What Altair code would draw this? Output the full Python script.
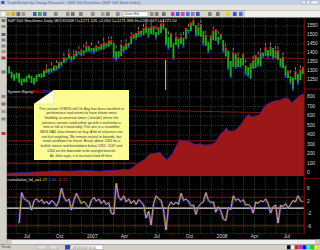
import altair as alt
import pandas as pd

FONT = "Liberation Sans"

# ---------------- price panel: weekly bars ----------------
week_dates = pd.date_range("2006-05-12", periods=119, freq="7D").strftime("%Y-%m-%d").tolist()
price_low = [1285, 1259, 1245, 1259, 1235, 1219, 1236, 1237, 1258, 1233,
             1224, 1240, 1265, 1262, 1266, 1288, 1293, 1290, 1298, 1310,
             1313, 1330, 1344, 1358, 1366, 1360, 1364, 1379, 1399, 1384,
             1395, 1404, 1408, 1410, 1403, 1407, 1420, 1416, 1420, 1436,
             1433, 1445, 1374, 1364, 1377, 1383, 1410, 1417, 1436, 1448,
             1478, 1481, 1490, 1500, 1498, 1510, 1493, 1505, 1500, 1484,
             1500, 1510, 1530, 1448, 1427, 1430, 1370, 1444, 1432, 1449,
             1439, 1478, 1518, 1520, 1550, 1500, 1495, 1490, 1450, 1439,
             1407, 1418, 1470, 1467, 1453, 1474, 1411, 1380, 1313, 1270,
             1322, 1321, 1320, 1325, 1330, 1284, 1274, 1256, 1312, 1315,
             1332, 1325, 1380, 1384, 1383, 1384, 1373, 1370, 1360, 1327,
             1315, 1272, 1260, 1235, 1200, 1250, 1234, 1249, 1283]
price_high = [1326, 1296, 1282, 1290, 1288, 1258, 1258, 1272, 1280, 1273,
              1262, 1280, 1284, 1286, 1303, 1305, 1312, 1316, 1322, 1329,
              1340, 1352, 1367, 1372, 1390, 1381, 1386, 1404, 1407, 1410,
              1415, 1431, 1430, 1427, 1429, 1433, 1435, 1440, 1452, 1453,
              1461, 1461, 1456, 1410, 1410, 1440, 1438, 1445, 1456, 1486,
              1498, 1510, 1513, 1523, 1530, 1540, 1540, 1538, 1540, 1516,
              1535, 1555, 1556, 1539, 1488, 1503, 1456, 1483, 1481, 1481,
              1485, 1530, 1530, 1560, 1576, 1555, 1536, 1552, 1521, 1492,
              1462, 1488, 1515, 1523, 1489, 1498, 1471, 1420, 1413, 1355,
              1397, 1396, 1370, 1371, 1388, 1331, 1321, 1334, 1353, 1380,
              1376, 1395, 1401, 1422, 1416, 1426, 1427, 1406, 1405, 1370,
              1370, 1330, 1292, 1271, 1263, 1290, 1284, 1300, 1314]
red_dot_weeks = [16, 19, 21, 23, 25, 27, 28, 30, 32, 33, 36, 38, 39, 41, 42, 46, 48, 50,
                 51, 53, 55, 56, 58, 59, 61, 62, 63, 66, 68, 70, 72, 74, 75, 77, 78, 80,
                 82, 83, 84, 86, 88, 91, 93, 95, 98, 99, 100, 102, 104, 106, 108, 109,
                 111, 113, 116, 118, 119]
blue_dot_weeks = [17, 20, 22, 24, 26, 29, 31, 34, 35, 37, 40, 43, 44, 45, 47, 49, 52, 54,
                  57, 60, 64, 65, 67, 69, 71, 73, 76, 79, 81, 85, 87, 89, 90, 92, 94, 96,
                  97, 101, 103, 105, 107, 110, 112, 114, 115, 117]
white_mark_weeks = [16, 18, 20, 23, 25, 27, 29, 31, 32, 34, 37, 39, 41, 42, 44, 46, 48, 50,
                    53, 55, 56, 58, 60, 62, 63, 65, 68, 70, 71, 73, 75, 77, 78, 80, 83, 85,
                    88, 91, 93, 96, 99, 101, 102, 104, 106, 108, 109, 111, 114, 116, 118]
spike_dates = ["2007-07-26"]
spike_top = [1362]
spike_bottom = [1194]
price_ticks = [1550, 1500, 1450, 1400, 1350, 1300, 1250]
price_ref = [1370]

# ---------------- system equity ----------------
equity_dates = ["2006-05-06", "2006-06-11", "2006-08-06", "2006-09-18", "2006-10-30", "2006-12-11",
                "2007-01-22", "2007-02-20", "2007-03-20", "2007-04-17", "2007-05-15", "2007-05-29",
                "2007-06-12", "2007-06-26", "2007-07-10", "2007-07-19", "2007-07-30", "2007-08-13",
                "2007-08-24", "2007-09-04", "2007-09-18", "2007-10-02", "2007-10-17", "2007-10-31",
                "2007-11-14", "2007-11-28", "2007-12-12", "2007-12-20", "2007-12-29",
                "2008-01-06", "2008-01-12", "2008-01-18", "2008-01-29", "2008-02-09", "2008-02-20",
                "2008-03-02", "2008-03-14", "2008-03-25", "2008-04-05", "2008-04-16", "2008-04-28",
                "2008-05-09", "2008-05-20", "2008-05-31", "2008-06-12", "2008-06-23", "2008-07-04",
                "2008-07-15", "2008-07-26", "2008-08-07", "2008-08-18"]
equity_values = [0, 5, 15, 25, 20, 30,
                 20, 30, 35, 40, 115, 150, 200, 210, 220, 180, 140, 200, 280, 350, 340, 330,
                 300, 310, 290, 300, 320, 370, 420,
                 440, 480, 450, 440, 460, 500, 560, 620, 590, 600, 620, 700, 730, 750, 760,
                 770, 790, 790, 740, 780, 820, 835]
equity_ticks = [800, 700, 600, 500, 400, 300, 200, 100, 0]
equity_trend_dates = ["2006-05-06", "2008-08-18"]
equity_trend_values = [690, 628]
equity_ref_levels = [340, 105]

# ---------------- indicator ----------------
ind_dates = week_dates[4:]
ind_values = [-4.8, 5, 3, 2.5, 2, -0.6, 2.5, 3, 2, 2.8,
              1.5, 2.2, 1.2, 2.5, 1.8, 0.6, 2.5, 6.4, 3.5, 2.2,
              3, -0.6, 2.5, 4.8, 3, 1.5, 2.2, 1.2, 0, 2.5,
              3.5, 2.2, 3, 1.5, 2.5, 1.2, 1.8, -1.6, -2, 8,
              3.5, 2.5, 4, 2, 3, 1.5, 2.5, 1.2, 2.8, 2,
              1, -3.2, -1, -5.4, 1.5, 4, 3, 2.5, -0.6, -7,
              0.5, 2, 1, 2, 1.2, 4.8, 2.5, 3, 2.2, 0.8,
              1, -2, 0.5, 1.5, 2, 5, 2.5, 1.8, 2, -1.3,
              0.5, -1, -3.5, -4, 0.3, -0.5, 4, 2.5, 3, 2,
              2.8, 1, 1.2, 0.5, -1.6, 2, 1.5, 2.5, 2, 3,
              1.5, -1.6, 0.5, 1, -4.8, 1, 0.5, 1.5, 0, 1.2,
              2.5, 2, 4, 2.5, 2]
ind_ticks = [6, 2, -2, -6]
ind_ref = [3.5, -5.5]
ind_zero = [0]

# ---------------- time axis ----------------
month_label_dates = ["2006-07-01", "2006-10-01", "2007-01-01", "2007-04-01", "2007-07-01",
                     "2007-10-01", "2008-01-01", "2008-04-01", "2008-07-01"]
month_labels = ["Jul", "Oct", "2007", "Apr", "Jul", "Oct", "2008", "Apr", "Jul"]
grid_dates = pd.date_range("2006-06-01", "2008-08-01", freq="MS").strftime("%Y-%m-%d").tolist()

note_lines = [
    "This version Of MDS still On Bay has been excellent in",
    "performance and seems to have shown more",
    "flexibility at uncertain times ( should ) where the",
    "previous version could either go with it and make a",
    "mint or fall at it miserably. This one is a scrambler",
    "MDS-NAZ also remains on buy. A bit of a bounce can",
    "not hurt anything. We remain neutral in bounds, but",
    "need conditions for those. Break above 1320 for a",
    "bullish stance and breakdown below 1255, 1247 and",
    "1204 on the downside to be outright bearish.",
    "As John says, it is no mans land till then.",
]

# ---------------- tables ----------------
price_df = pd.DataFrame({"date": week_dates, "low": price_low, "high": price_high,
                         "week": list(range(1, 120))})
red_df = price_df[price_df.week.isin(red_dot_weeks)]
blue_df = price_df[price_df.week.isin(blue_dot_weeks)]
white_df = price_df[price_df.week.isin(white_mark_weeks)]
spike_df = pd.DataFrame({"date": spike_dates, "top": spike_top, "bottom": spike_bottom})
eq_df = pd.DataFrame({"date": equity_dates, "v": equity_values})
trend_df = pd.DataFrame({"date": equity_trend_dates, "v": equity_trend_values})
ind_df = pd.DataFrame({"date": ind_dates, "v": ind_values})
one = pd.DataFrame({"k": [0]})


def X(field="date"):
    return alt.X(f"{field}:T", axis=None,
                 scale=alt.Scale(domain=[alt.DateTime(year=2006, month=5, date=6, utc=True),
                                         alt.DateTime(year=2008, month=8, date=18, utc=True)],
                                 range=[7, 304]))


PANELS = {"p": ([1194, 1594], [90, 18]), "e": ([-30, 874], [176, 90]), "i": ([-8, 10], [233, 177])}


def Y(field, which):
    dom, rng = PANELS[which]
    return alt.Y(f"{field}:Q", axis=None,
                 scale=alt.Scale(domain=dom, range=rng, zero=False, nice=False))


def box(x, x2, y, y2, color, **kw):
    return alt.Chart(one).mark_rect(color=color, **kw).encode(
        x=alt.value(x), x2=alt.value(x2), y=alt.value(y), y2=alt.value(y2))


def label(text, x, y, color, size=4.2, align="left", **kw):
    return alt.Chart(one).mark_text(text=text, align=align, baseline="middle", fontSize=size,
                                    color=color, font=FONT, **kw).encode(
        x=alt.value(x), y=alt.value(y))


def hline(y, x, x2, color, width=1.0, **kw):
    return alt.Chart(one).mark_rule(color=color, strokeWidth=width, **kw).encode(
        x=alt.value(x), x2=alt.value(x2), y=alt.value(y))


def vline(x, y, y2, color, width=1.0, **kw):
    return alt.Chart(one).mark_rule(color=color, strokeWidth=width, **kw).encode(
        x=alt.value(x), y=alt.value(y), y2=alt.value(y2))


def hgrid(values, which, color="#4c4c4c", width=0.7, dash=(1, 1)):
    return alt.Chart(pd.DataFrame({"v": values})).mark_rule(
        color=color, strokeWidth=width, strokeDash=list(dash)).encode(
        y=Y("v", which), x=alt.value(7), x2=alt.value(304))


def ticklabels(values, which):
    df = pd.DataFrame({"v": values, "t": [str(v) for v in values]})
    return alt.Chart(df).mark_text(align="left", baseline="middle", fontSize=4.8,
                                   color="#d8d8d8", font=FONT).encode(
        y=Y("v", which), x=alt.value(307), text="t:N")


layers = []

# ---------------- window chrome ----------------
layers += [
    box(0, 320, 0, 5, "#c4d0e6"),
    box(1, 4.5, 1, 4, "#3c64b4"),
    label("TradeStation by Omega Research - S&P 500 Stocklines [S&P 500 Stock Index]",
          7, 2.6, "#56648a", 3.8),
    box(302, 305.5, 0.8, 4.2, "#eef2fa", stroke="#8090b0", strokeWidth=0.4),
    box(306.5, 310, 0.8, 4.2, "#eef2fa", stroke="#8090b0", strokeWidth=0.4),
    box(311, 318.5, 0.8, 4.2, "#eef2fa", stroke="#8090b0", strokeWidth=0.4),
    box(0, 320, 5, 10.5, "#e6e4de"),
    box(0, 320, 10.5, 17.5, "#d6d3ca"),
    box(245, 320, 10.5, 17.5, "#f0f0ee"),
    hline(17.6, 0, 320, "#6c6c6c", 0.8),
]
toolbar_icons = [(1.5, "#f4f4f4"), (6.5, "#e0c050"), (11.5, "#d0a838"), (16.5, "#707070"),
                 (21.5, "#9a9a9a"), (33, "#4060c0"), (38, "#40a060"), (43, "#5070d0"),
                 (54, "#888888"), (66, "#909090"), (71, "#747474"), (79, "#8080a0"),
                 (91, "#909090"), (101, "#a0a0a0"), (106, "#808080"), (116, "#8090b0"),
                 (150, "#909090"), (155, "#808080"), (162, "#747474"),
                 (171, "#c040c0"), (176, "#4060d0"), (181, "#c050a0"), (186, "#5070e0"),
                 (191, "#8080c0"), (196, "#4050b0"), (208, "#808080"), (216, "#747474"),
                 (226, "#e0d030"), (233, "#3050d0"), (239, "#5070e0")]
for ix, col in toolbar_icons:
    layers.append(box(ix, ix + 3.6, 12, 16, col))
layers += [box(123, 148, 11.8, 16.6, "#ffffff", stroke="#808080", strokeWidth=0.4),
           label("Zoom Mid", 124.5, 14.3, "#404040", 3.2)]

# left tool strip, scrollbar, status bar
layers += [
    box(0, 7, 17.5, 244, "#d4d0c8"),
    vline(6.6, 17.5, 240, "#8a8a8a", 0.6),
]
left_icons = [(19, "#707070"), (25, "#858585"), (33, "#606060"), (38.5, "#777777"),
              (44.5, "#858585"), (50, "#959595"), (56.5, "#c03030"), (70.5, "#707070"),
              (95, "#858585"), (102.5, "#707070"), (110, "#959595"), (117.5, "#858585"),
              (132, "#c03838")]
for iy, col in left_icons:
    layers.append(box(1.5, 5.5, iy, iy + 3, col))
layers += [
    box(7, 320, 239.6, 244.2, "#eeeeee"),
    box(7, 11, 239.6, 244.2, "#d4d0c8", stroke="#909090", strokeWidth=0.3),
    box(315.5, 320, 239.6, 244.2, "#d4d0c8", stroke="#909090", strokeWidth=0.3),
    box(0, 320, 244.2, 250, "#d4d0c8"),
    label("Ready", 1.5, 247.3, "#505050", 3.2),
    box(37, 47, 245, 249.3, "#dedcd4", stroke="#909090", strokeWidth=0.4),
    box(49, 58, 245, 249.3, "#dedcd4", stroke="#909090", strokeWidth=0.4),
    box(65, 70, 245, 249.5, "#2848c8"),
    box(71, 103, 245, 249.5, "#ffffff", stroke="#808080", strokeWidth=0.4),
    label("08/13/2008  16:00", 72.5, 247.3, "#505050", 3),
]
palette = ["#000000", "#ffffff", "#ff1010", "#ff00ff", "#0000ff", "#00ffff", "#00e000", "#ffff00"]
for i, col in enumerate(palette):
    layers.append(box(287 + 3.9 * i, 290.6 + 3.9 * i, 245.2, 249.2, col,
                      stroke="#808080", strokeWidth=0.3))

# ---------------- grids & reference lines ----------------
layers += [
    alt.Chart(pd.DataFrame({"date": grid_dates})).mark_rule(
        color="#4c4c4c", strokeWidth=0.7, strokeDash=[1, 1]).encode(
        x=X("date"), y=alt.value(18), y2=alt.value(233)),
    hgrid(price_ticks, "p"),
    hgrid(equity_ticks[:-1], "e"),
    hgrid(ind_ticks, "i"),
    hgrid(price_ref, "p", "#8c1414", 1.0, (1, 0)),
    hgrid(ind_ref, "i", "#8c1414", 0.9, (1, 0)),
    hgrid(equity_ref_levels, "e", "#8c1414", 1.0, (1, 0)),
    alt.Chart(trend_df).mark_line(color="#8c1414", strokeWidth=1.0).encode(
        x=X("date"), y=Y("v", "e")),
]

# ---------------- equity ----------------
layers += [
    alt.Chart(eq_df).mark_area(color="#9c1818", opacity=1).encode(
        x=X("date"), y=Y("v", "e"), y2=alt.datum(-30)),
    alt.Chart(eq_df).mark_line(color="#2424b4", strokeWidth=0.8).encode(
        x=X("date"), y=Y("v", "e")),
]

# ---------------- price ----------------
layers += [
    alt.Chart(spike_df).mark_rule(color="#c8c8c8", strokeWidth=1).encode(
        x=X("date"), y=Y("top", "p"), y2=alt.Y2("bottom:Q")),
    alt.Chart(price_df).mark_rule(color="#22a822", strokeWidth=1.9).encode(
        x=X("date"), y=Y("low", "p"), y2=alt.Y2("high:Q")),
    alt.Chart(white_df).mark_tick(orient="vertical", size=3.2, thickness=0.8,
                                  color="#d0d0d0", yOffset=-4.2).encode(
        x=X("date"), y=Y("high", "p")),
    alt.Chart(red_df).mark_square(size=4.5, color="#f01c1c", opacity=1, yOffset=-0.6).encode(
        x=X("date"), y=Y("high", "p")),
    alt.Chart(blue_df).mark_square(size=4.5, color="#2034ec", opacity=1, yOffset=0.8).encode(
        x=X("date"), y=Y("low", "p")),
]

# ---------------- indicator ----------------
layers += [
    hgrid(ind_zero, "i", "#e6e6e6", 1.3, (1, 0)),
    alt.Chart(ind_df).mark_line(color="#3048e0", strokeWidth=0.7, xOffset=-0.7, yOffset=0.6).encode(
        x=X("date"), y=Y("v", "i")),
    alt.Chart(ind_df).mark_line(color="#8a3cc8", strokeWidth=0.8, xOffset=0.7).encode(
        x=X("date"), y=Y("v", "i")),
    alt.Chart(ind_df).mark_line(color="#e8c440", strokeWidth=0.8).encode(
        x=X("date"), y=Y("v", "i")),
]

# ---------------- axes ----------------
layers += [
    vline(304.2, 18, 234, "#8c1010", 1),
    hline(89, 304, 320, "#8c1010", 0.9),
    hline(178.6, 304, 320, "#8c1010", 0.9),
    hline(233.6, 7, 304, "#b01010", 0.9, strokeDash=[1, 1.2]),
    ticklabels(price_ticks, "p"),
    ticklabels(equity_ticks, "e"),
    ticklabels(ind_ticks, "i"),
    alt.Chart(pd.DataFrame({"date": month_label_dates, "t": month_labels})).mark_text(
        align="center", baseline="middle", fontSize=4.8, color="#d8d8d8", font=FONT).encode(
        x=X("date"), y=alt.value(237), text="t:N"),
]

# ---------------- sticky note ----------------
layers += [
    box(34, 129, 90, 160, "#fcfc94"),
    alt.Chart(one).mark_point(shape="M-1,-0.7L1,-0.7L-1,0.7Z", size=400, filled=True,
                              color="#000000", opacity=1).encode(x=alt.value(44), y=alt.value(97)),
    alt.Chart(one).mark_point(shape="M1,-0.7L1,0.7L-1,0.7Z", size=400, filled=True,
                              fill="#fefed2", stroke="#c8c890", strokeWidth=0.4,
                              opacity=1).encode(x=alt.value(44), y=alt.value(97)),
    alt.Chart(one).mark_text(text=note_lines, align="center", baseline="top", fontSize=3.5,
                             lineHeight=4.7, color="#303030", font=FONT).encode(
        x=alt.value(81.5), y=alt.value(106.5)),
]

# ---------------- panel headers ----------------
layers += [
    label("S&P 500 Stocklines-Daily   08/13/2008   O=1271.126   +2.050   C=1271.886   H=1285.607   L=1271.50",
          7.5, 20.6, "#e8e8e8", 4.0),
    label("System Equity", 7.5, 91.6, "#e8e8e8", 4.0),
    label("834.13", 32, 91.6, "#ff3030", 4.0),
    label("138", 44, 91.6, "#5060ff", 4.0),
    label("cumulative_lid_av", 7.5, 180.4, "#e8e8e8", 4.0),
    label("-1.17", 38, 180.4, "#e8e050", 4.0),
    label("1.30", 48.5, 180.4, "#5060ff", 4.0),
    label("-1.17", 58, 180.4, "#ff3030", 4.0),
]

chart = alt.layer(*layers).resolve_scale(y="independent").properties(
    width=320, height=250, padding=0, background="#000000",
    autosize=alt.AutoSizeParams(type="none"),
).configure_view(stroke=None)

chart.save("out.html", embed_options={"renderer": "svg", "actions": False})
